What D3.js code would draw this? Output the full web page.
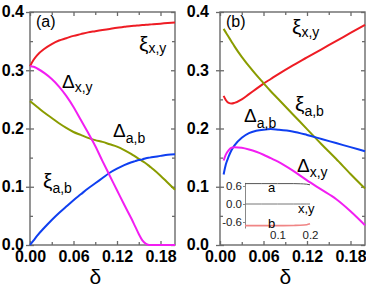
<!DOCTYPE html>
<html><head><meta charset="utf-8">
<script src="https://cdn.jsdelivr.net/npm/d3@7/dist/d3.min.js"></script>
<style>
html,body{margin:0;padding:0;background:#fff;}
svg{display:block;}
text{font-family:"Liberation Sans",Arial,sans-serif;}
</style></head>
<body>
<svg id="c" width="366" height="290"></svg>
<script>
// ---------- data ----------
const deltaA = [0,0.005,0.01,0.02,0.03,0.04,0.05,0.06,0.07,0.08,0.09,0.10,0.11,0.12,0.13,0.14,0.145,0.15,0.155,0.16,0.165,0.17,0.18,0.19,0.20];
const xiXY_a  = [0.307,0.318,0.326,0.337,0.345,0.351,0.355,0.359,0.362,0.365,0.367,0.369,0.371,0.373,0.3745,0.376,0.3765,0.377,0.3775,0.378,0.3785,0.379,0.380,0.381,0.382];
const dXY_a   = [0.307,0.306,0.303,0.295,0.285,0.272,0.256,0.237,0.215,0.193,0.170,0.144,0.119,0.094,0.069,0.045,0.032,0.019,0.008,0.002,0,0,0,0,0];
const dAB_a   = [0.247,0.242,0.237,0.227,0.218,0.209,0.201,0.194,0.189,0.184,0.180,0.177,0.173,0.169,0.163,0.156,0.152,0.148,0.144,0.140,0.135,0.130,0.119,0.107,0.095];
const xiAB_a  = [0,0.008,0.016,0.030,0.043,0.055,0.066,0.077,0.087,0.097,0.106,0.115,0.124,0.131,0.137,0.142,0.144,0.146,0.147,0.149,0.150,0.151,0.153,0.155,0.156];

const deltaB = [0.005,0.008,0.012,0.016,0.02,0.03,0.04,0.05,0.06,0.07,0.08,0.10,0.12,0.14,0.16,0.18,0.20];
const xiXY_b  = [0.256,0.249,0.244,0.243,0.244,0.250,0.259,0.268,0.277,0.285,0.293,0.308,0.322,0.336,0.350,0.364,0.378];
const xiAB_b  = [0.371,0.365,0.357,0.349,0.341,0.323,0.307,0.292,0.278,0.264,0.251,0.225,0.199,0.173,0.148,0.122,0.097];
const dAB_b   = [0.121,0.138,0.152,0.163,0.171,0.184,0.192,0.196,0.198,0.199,0.198,0.195,0.189,0.182,0.175,0.168,0.161];
const dXY_b   = [0.145,0.155,0.163,0.167,0.168,0.167,0.164,0.160,0.155,0.149,0.143,0.128,0.111,0.095,0.079,0.058,0.034];

const deltaIn = [0,0.05,0.10,0.15,0.17,0.19,0.20];
const insetA  = [0.68,0.68,0.68,0.68,0.675,0.66,0.64];
const insetXY = [0,0,0,0,0,0,0];
const insetB  = [-0.72,-0.72,-0.72,-0.715,-0.71,-0.69,-0.66];

const xMajor = [0,0.06,0.12,0.18];
const xMinor = [0.03,0.09,0.15];
const yMajor = [0,0.1,0.2,0.3,0.4];
const yMinor = [0.05,0.15,0.25,0.35];
const inYTicks = [-0.6,0,0.6];
const inXTicks = [0.1,0.2];

const COL = {red:"#ee1c24", mag:"#f21ef2", olive:"#8a9c00", blue:"#0f3ff0"};

// ---------- drawing ----------
const svg = d3.select("#c");
const frameCol = "#6a6a6a";

function panel(x0, x1, labelPad, tag, series, labels){
  const x = d3.scaleLinear().domain([0,0.2]).range([x0,x1]);
  const y = d3.scaleLinear().domain([0,0.4]).range([245,12]);
  const g = svg.append("g");
  const fmt2 = d3.format(".2f"), fmt1 = d3.format(".1f");

  const gb = g.append("g").attr("transform",`translate(0,${y(0)})`)
    .call(d3.axisBottom(x).tickValues(xMajor).tickFormat(fmt2).tickSizeInner(-4).tickSizeOuter(0).tickPadding(6));
  const gb2 = g.append("g").attr("transform",`translate(0,${y(0)})`)
    .call(d3.axisBottom(x).tickValues(xMinor).tickFormat("").tickSizeInner(-3).tickSizeOuter(0));
  const gt = g.append("g").attr("transform",`translate(0,${y(0.4)})`)
    .call(d3.axisTop(x).tickValues(xMajor).tickFormat("").tickSizeInner(-4).tickSizeOuter(0));
  const gt2 = g.append("g").attr("transform",`translate(0,${y(0.4)})`)
    .call(d3.axisTop(x).tickValues(xMinor).tickFormat("").tickSizeInner(-3).tickSizeOuter(0));
  const gl = g.append("g").attr("transform",`translate(${x0},0)`)
    .call(d3.axisLeft(y).tickValues(yMajor).tickFormat(fmt1).tickSizeInner(4).tickSizeOuter(0).tickPadding(labelPad));
  const gl2 = g.append("g").attr("transform",`translate(${x0},0)`)
    .call(d3.axisRight(y).tickValues(yMajor).tickFormat("").tickSizeInner(4).tickSizeOuter(0));
  const gl3 = g.append("g").attr("transform",`translate(${x0},0)`)
    .call(d3.axisRight(y).tickValues(yMinor).tickFormat("").tickSizeInner(3).tickSizeOuter(0));
  const gr = g.append("g").attr("transform",`translate(${x1},0)`)
    .call(d3.axisLeft(y).tickValues(yMajor).tickFormat("").tickSizeInner(4).tickSizeOuter(0));
  const gr2 = g.append("g").attr("transform",`translate(${x1},0)`)
    .call(d3.axisLeft(y).tickValues(yMinor).tickFormat("").tickSizeInner(3).tickSizeOuter(0));

  [gb,gb2,gt,gt2,gl,gl2,gl3,gr,gr2].forEach(a=>{
    a.select(".domain").remove();
    a.selectAll(".tick line").attr("stroke",frameCol).attr("stroke-width",1.3);
    a.selectAll("text").attr("font-size",16).attr("font-weight","bold").attr("fill","#000")
      .attr("font-family","'Liberation Sans',Arial,sans-serif");
  });
  gl.selectAll("text").attr("dy","0.30em");

  g.append("rect").attr("x",x0).attr("y",y(0.4)).attr("width",x1-x0).attr("height",y(0)-y(0.4))
    .attr("fill","none").attr("stroke",frameCol).attr("stroke-width",1.4);

  const line = d3.line().curve(d3.curveMonotoneX);
  series.forEach(s=>{
    g.append("path").attr("d", line(s.xs.map((d,i)=>[x(d), y(s.ys[i])])))
      .attr("fill","none").attr("stroke",s.col).attr("stroke-width",2);
  });

  g.append("text").attr("x",x0+6).attr("y",27).attr("font-size",16).text(tag);
  labels.forEach(l=>{
    const t = g.append("text").attr("x",l.x).attr("y",l.y);
    t.append("tspan").attr("font-size",l.m==="ξ"?21:19).text(l.m);
    t.append("tspan").attr("font-size",14).attr("dy",l.dy).text(l.s);
  });
  g.append("text").attr("x",(x0+x1)/2-13).attr("y",284).attr("font-size",21).text("δ");
  return {x,y};
}

panel(30,175,2,"(a)",[
  {xs:deltaA, ys:xiXY_a, col:COL.red},
  {xs:deltaA, ys:dAB_a, col:COL.olive},
  {xs:deltaA, ys:xiAB_a, col:COL.blue},
  {xs:deltaA, ys:dXY_a, col:COL.mag}
],[
  {m:"ξ",s:"x,y",x:139,y:51,dy:2},
  {m:"Δ",s:"x,y",x:62,y:88,dy:4},
  {m:"Δ",s:"a,b",x:113,y:137,dy:6},
  {m:"ξ",s:"a,b",x:43,y:188,dy:5}
]);

panel(220,365,7,"(b)",[
  {xs:deltaB, ys:xiXY_b, col:COL.red},
  {xs:deltaB, ys:xiAB_b, col:COL.olive},
  {xs:deltaB, ys:dAB_b, col:COL.blue},
  {xs:deltaB, ys:dXY_b, col:COL.mag}
],[
  {m:"ξ",s:"x,y",x:292,y:34,dy:3},
  {m:"ξ",s:"a,b",x:295,y:111,dy:5},
  {m:"Δ",s:"a,b",x:244,y:122,dy:6},
  {m:"Δ",s:"x,y",x:297,y:172,dy:5}
]);

// ---------- inset ----------
const xi = d3.scaleLinear().domain([0,0.2]).range([245,310]);
const yi = d3.scaleLinear().domain([-0.8,0.72]).range([228,182.4]);
const gi = svg.append("g");
const ai = gi.append("g").attr("transform",`translate(${xi(0)},0)`)
  .call(d3.axisLeft(yi).tickValues(inYTicks).tickFormat(d3.format(".1f")).tickSizeInner(2).tickSizeOuter(0).tickPadding(1));
ai.select(".domain").attr("stroke","#888").attr("stroke-width",1);
ai.selectAll(".tick line").attr("stroke","#888");
ai.selectAll("text").attr("font-size",11.5).attr("fill","#222");
ai.selectAll("text").text(d=> d<0 ? "-0.6" : d3.format(".1f")(d));
const bi = gi.append("g").attr("transform",`translate(0,${yi(-0.8)})`)
  .call(d3.axisBottom(xi).tickValues(inXTicks).tickFormat(d3.format(".1f")).tickSize(0).tickPadding(3));
bi.select(".domain").remove();
bi.selectAll("text").attr("font-size",11.5).attr("fill","#222");
const li = d3.line().curve(d3.curveMonotoneX);
[[insetA,"#555",1],[insetXY,"#777",1],[insetB,"#f08585",1.6]].forEach(([ys,c,w])=>{
  gi.append("path").attr("d",li(deltaIn.map((d,i)=>[xi(d),yi(ys[i])])))
    .attr("fill","none").attr("stroke",c).attr("stroke-width",w);
});
gi.append("text").attr("x",268).attr("y",192).attr("font-size",13).text("a");
gi.append("text").attr("x",298).attr("y",213).attr("font-size",13).text("x,y");
gi.append("text").attr("x",268).attr("y",228).attr("font-size",13).text("b");
</script>
</body></html>
